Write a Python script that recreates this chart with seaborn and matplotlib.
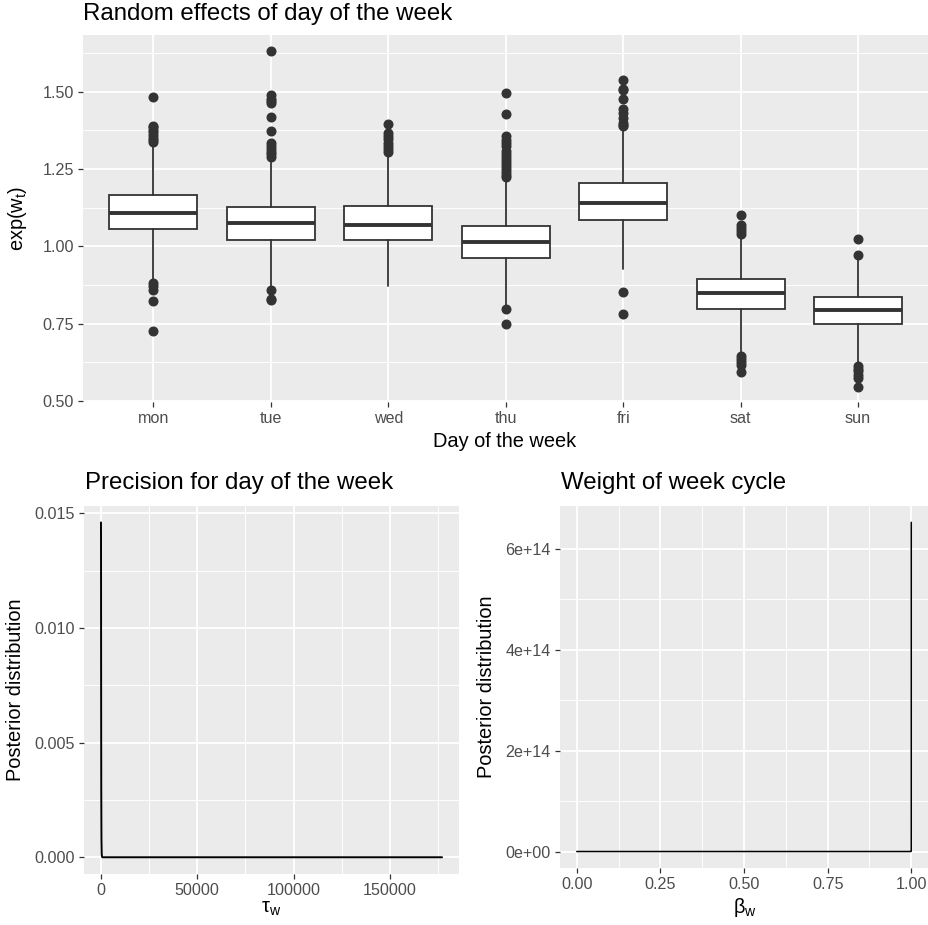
import numpy as np
import pandas as pd
import matplotlib
matplotlib.use("Agg")
import matplotlib.pyplot as plt
import seaborn as sns
from matplotlib.ticker import FixedLocator, FuncFormatter

# ---------------- data ----------------
days = ["mon", "tue", "wed", "thu", "fri", "sat", "sun"]
q1 = [1.056, 1.022, 1.019, 0.962, 1.084, 0.797, 0.749]
med = [1.109, 1.075, 1.069, 1.013, 1.141, 0.849, 0.793]
q3 = [1.166, 1.127, 1.130, 1.067, 1.205, 0.894, 0.835]
whis_lo = [0.890, 0.870, 0.873, 0.805, 0.927, 0.650, 0.620]
whis_hi = [1.335, 1.285, 1.292, 1.220, 1.383, 1.035, 0.965]
fliers_hi = [
    [1.483, 1.391, 1.385, 1.378, 1.370, 1.360, 1.352, 1.345, 1.338],
    [1.631, 1.491, 1.478, 1.470, 1.464, 1.419, 1.373, 1.335, 1.325, 1.315, 1.305, 1.298, 1.290],
    [1.397, 1.367, 1.357, 1.347, 1.336, 1.325, 1.315, 1.305],
    [1.495, 1.427, 1.356, 1.345, 1.335, 1.324, 1.310, 1.300, 1.290, 1.280, 1.270, 1.260, 1.250, 1.240, 1.230, 1.225],
    [1.537, 1.510, 1.505, 1.477, 1.443, 1.430, 1.415, 1.400, 1.394, 1.388],
    [1.100, 1.069, 1.060, 1.050, 1.040],
    [1.024, 0.972],
]
fliers_lo = [
    [0.881, 0.870, 0.857, 0.823, 0.725],
    [0.857, 0.830, 0.825],
    [],
    [0.796, 0.750],
    [0.852, 0.782],
    [0.646, 0.636, 0.626, 0.615, 0.592],
    [0.611, 0.602, 0.595, 0.585, 0.573, 0.546],
]

tau_w = [0, 30, 80, 150, 250, 400, 700, 177000]
tau_dens = [0.0146, 0.0141, 0.0080, 0.0030, 0.0008, 0.0001, 0.0, 0.0]

beta_w = [0.0, 0.25, 0.5, 0.75, 0.999, 0.9999, 0.99995, 0.99999]
beta_dens = [0.0, 0.0, 0.0, 0.0, 0.0, 1.0e12, 1.5e14, 6.53e14]

# ---------------- style ----------------
sns.set_theme(style="darkgrid", rc={
    "axes.facecolor": "#EBEBEB",
    "grid.color": "white",
    "axes.edgecolor": "white",
})
plt.rcParams["font.family"] = ["Liberation Sans", "DejaVu Sans"]
plt.rcParams["mathtext.fontset"] = "custom"
plt.rcParams["mathtext.rm"] = "Liberation Sans"
plt.rcParams["mathtext.it"] = "Liberation Sans:italic"
plt.rcParams["mathtext.default"] = "rm"

TICK_C = "#4D4D4D"
LINE_C = "#333333"
TICK_FS = 11.6
TITLE_FS = 17.3
LAB_FS = 14.4

W, H = 929, 925
fig = plt.figure(figsize=(W / 100, H / 100), dpi=100)


def add_ax(l, r, t, b):
    return fig.add_axes([l / W, 1 - b / H, (r - l) / W, (b - t) / H])


def style_ax(ax):
    for s in ax.spines.values():
        s.set_visible(False)
    ax.set_facecolor("#EBEBEB")
    ax.grid(True, which="major", color="white", linewidth=1.3)
    ax.grid(True, which="minor", color="white", linewidth=0.65)
    ax.set_axisbelow(True)
    ax.tick_params(which="major", length=3.6, width=0.9, color=LINE_C,
                   labelcolor=TICK_C, labelsize=TICK_FS, pad=3.0,
                   bottom=True, left=True)
    ax.tick_params(which="minor", length=0, bottom=False, left=False)


# ---------------- top: boxplots ----------------
ax1 = add_ax(83, 928.5, 35, 402)
style_ax(ax1)
stats = []
for i, d in enumerate(days):
    stats.append(dict(label=d, q1=q1[i], med=med[i], q3=q3[i],
                      whislo=whis_lo[i], whishi=whis_hi[i],
                      fliers=np.array(fliers_hi[i] + fliers_lo[i])))
ax1.bxp(stats, positions=list(range(len(days))), widths=0.75,
        patch_artist=True, showcaps=False, manage_ticks=False,
        boxprops=dict(facecolor="white", edgecolor=LINE_C, linewidth=1.3),
        medianprops=dict(color=LINE_C, linewidth=2.8, solid_capstyle="butt"),
        whiskerprops=dict(color=LINE_C, linewidth=1.3),
        flierprops=dict(marker="o", markerfacecolor=LINE_C, markeredgecolor=LINE_C,
                        markersize=6.2, linestyle="none"))
ax1.set_xlim(-0.6, 6.6)
ax1.set_ylim(0.496, 1.684)
ax1.xaxis.set_major_locator(FixedLocator(range(len(days))))
ax1.set_xticklabels(days)
ax1.yaxis.set_major_locator(FixedLocator([0.5, 0.75, 1.0, 1.25, 1.5]))
ax1.yaxis.set_minor_locator(FixedLocator([0.625, 0.875, 1.125, 1.375, 1.625]))
ax1.yaxis.set_major_formatter(FuncFormatter(lambda v, p: f"{v:.2f}"))
ax1.grid(False, which="minor", axis="x")
ax1.set_xlabel("")
ax1.set_ylabel("")

fig.text(83 / W, 1 - 20 / H, "Random effects of day of the week",
         fontsize=TITLE_FS, ha="left", va="baseline", color="black")
fig.text(505 / W, 1 - 447 / H, "Day of the week", fontsize=LAB_FS,
         ha="center", va="baseline", color="black")
fig.text(18 / W, 1 - 218 / H, r"$\mathrm{exp(w_t)}$", fontsize=LAB_FS,
         ha="center", va="center", rotation=90, color="black")

# ---------------- bottom left ----------------
ax2 = add_ax(84, 459, 505.7, 874)
style_ax(ax2)
df_tau = pd.DataFrame({"tau": tau_w, "dens": tau_dens})
sns.lineplot(data=df_tau, x="tau", y="dens", ax=ax2, color="black",
             linewidth=1.4, sort=False, estimator=None)
ax2.set_xlim(-8800, 185800)
ax2.set_ylim(-0.00073, 0.01533)
ax2.xaxis.set_major_locator(FixedLocator([0, 50000, 100000, 150000]))
ax2.xaxis.set_minor_locator(FixedLocator([25000, 75000, 125000, 175000]))
ax2.xaxis.set_major_formatter(FuncFormatter(lambda v, p: f"{v:.0f}"))
ax2.yaxis.set_major_locator(FixedLocator([0.0, 0.005, 0.010, 0.015]))
ax2.yaxis.set_minor_locator(FixedLocator([0.0025, 0.0075, 0.0125]))
ax2.yaxis.set_major_formatter(FuncFormatter(lambda v, p: f"{v:.3f}"))
ax2.set_xlabel("")
ax2.set_ylabel("")
fig.text(85 / W, 1 - 489 / H, "Precision for day of the week",
         fontsize=TITLE_FS, ha="left", va="baseline", color="black")
fig.text(16 / W, 1 - 690 / H, "Posterior distribution", fontsize=LAB_FS,
         ha="center", va="center", rotation=90, color="black")
fig.text(271 / W, 1 - 913 / H, r"$\tau_{\mathrm{w}}$", fontsize=LAB_FS,
         ha="center", va="baseline", color="black")

# ---------------- bottom right ----------------
ax3 = add_ax(560, 928, 505.7, 868)
style_ax(ax3)
df_beta = pd.DataFrame({"beta": beta_w, "dens": beta_dens})
sns.lineplot(data=df_beta, x="beta", y="dens", ax=ax3, color="black",
             linewidth=1.1, sort=False, estimator=None)
ax3.set_xlim(-0.05, 1.05)
ax3.set_ylim(-3.27e13, 6.86e14)
ax3.xaxis.set_major_locator(FixedLocator([0, 0.25, 0.5, 0.75, 1.0]))
ax3.xaxis.set_minor_locator(FixedLocator([0.125, 0.375, 0.625, 0.875]))
ax3.xaxis.set_major_formatter(FuncFormatter(lambda v, p: f"{v:.2f}"))
ax3.yaxis.set_major_locator(FixedLocator([0, 2e14, 4e14, 6e14]))
ax3.yaxis.set_minor_locator(FixedLocator([1e14, 3e14, 5e14]))
ax3.yaxis.set_major_formatter(FuncFormatter(lambda v, p: f"{int(round(v / 1e14))}e+{14 if v else 0:02d}"))
ax3.set_xlabel("")
ax3.set_ylabel("")
fig.text(561 / W, 1 - 489 / H, "Weight of week cycle",
         fontsize=TITLE_FS, ha="left", va="baseline", color="black")
fig.text(487 / W, 1 - 687 / H, "Posterior distribution", fontsize=LAB_FS,
         ha="center", va="center", rotation=90, color="black")
fig.text(745 / W, 1 - 913 / H, r"$\beta_{\mathrm{w}}$", fontsize=LAB_FS,
         ha="center", va="baseline", color="black")

fig.savefig("out.png", dpi=100, facecolor="white")
